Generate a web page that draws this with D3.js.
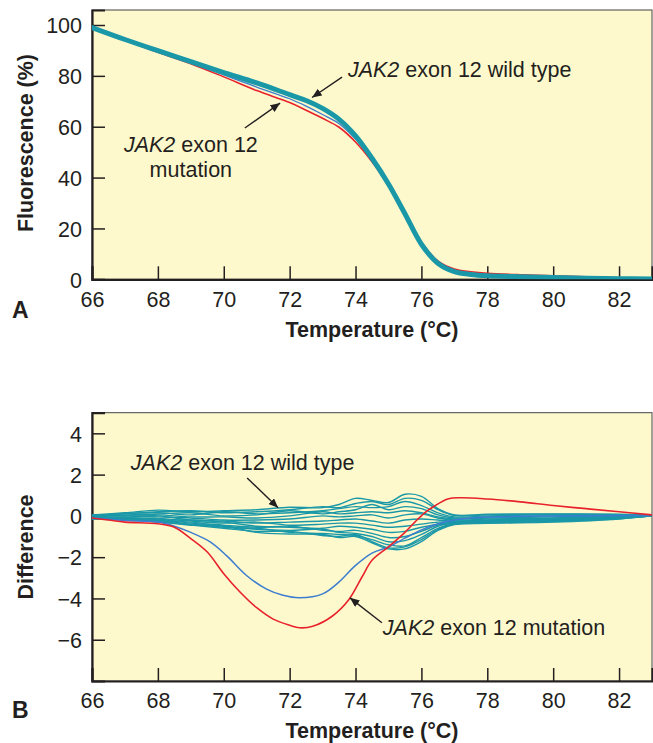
<!DOCTYPE html>
<html>
<head>
<meta charset="utf-8">
<script src="https://cdn.jsdelivr.net/npm/d3@7"></script>
<style>
  body { margin: 0; background: #fff; }
  svg { display: block; font-family: "Liberation Sans", Arial, sans-serif; }
</style>
</head>
<body>
<script>
// ---- data ----
let tempTicks = [66, 68, 70, 72, 74, 76, 78, 80, 82];
let fluorTicks = [0, 20, 40, 60, 80, 100];
let diffTicks = [4, 2, 0, -2, -4, -6];

// panel A: melting curves
let meltT = [66, 67, 68, 69, 70, 71, 72, 72.5, 73, 73.5, 74, 74.5, 75, 75.5, 76, 76.5, 77, 77.5, 78, 79, 80, 81, 82, 83];
let meltWild = [99, 94.3, 89.9, 85.6, 81.3, 77.2, 72.6, 70.3, 67.2, 62.9, 56.4, 47.6, 37.5, 25.8, 13.8, 6.3, 3, 1.9, 1.4, 1, 0.7, 0.45, 0.25, 0.15];
let meltRed = [99, 94.1, 89.3, 84.8, 79.6, 74.2, 69.5, 66.5, 63.3, 59.8, 54, 46.2, 36.8, 25.8, 14.6, 7.2, 4, 3, 2.4, 1.8, 1.4, 1, 0.6, 0.3];
let meltBlue = [99, 94.2, 89.6, 85.2, 80.4, 75.6, 71, 68.1, 64.8, 61.2, 55.1, 47, 37.2, 25.8, 14, 6.6, 3.3, 2.1, 1.6, 1.1, 0.8, 0.5, 0.3, 0.15];

// panel B: difference plot
let diffT = [66, 67, 68, 69, 70, 71, 72, 73, 73.5, 74, 74.5, 75, 75.5, 76, 76.5, 77, 78, 80, 82, 83];
let diffWild = [
  [0.05, 0.15, 0.28, 0.2, 0.25, 0.3, 0.42, 0.4, 0.55, 0.85, 0.75, 0.65, 1.05, 0.95, 0.35, 0.05, 0.08, 0.1, 0.08, 0.05],
  [0.02, 0.1, 0.2, 0.25, 0.15, 0.2, 0.3, 0.45, 0.4, 0.6, 0.7, 0.55, 0.85, 0.75, 0.3, 0.02, 0.05, 0.08, 0.06, 0.05],
  [0.0, 0.12, 0.15, 0.05, 0.2, 0.1, 0.15, 0.25, 0.35, 0.45, 0.4, 0.45, 0.7, 0.5, 0.15, -0.05, 0.0, 0.05, 0.05, 0.04],
  [0.05, 0.05, 0.1, 0.15, 0.0, 0.05, 0.25, 0.1, 0.2, 0.3, 0.55, 0.3, 0.45, 0.35, 0.05, -0.1, -0.05, 0.0, 0.04, 0.04],
  [0.0, 0.02, 0.05, -0.05, -0.05, -0.1, 0.0, 0.2, 0.1, 0.15, 0.2, 0.15, 0.25, 0.15, -0.05, -0.15, -0.1, -0.05, 0.02, 0.04],
  [-0.02, 0.0, -0.05, -0.1, -0.2, -0.2, -0.15, 0.0, -0.05, 0.0, 0.05, -0.1, 0.05, 0.1, -0.1, -0.2, -0.15, -0.1, 0.0, 0.03],
  [-0.05, -0.05, 0.0, -0.2, -0.25, -0.35, -0.3, -0.25, -0.2, -0.15, -0.25, -0.35, -0.2, -0.15, -0.2, -0.25, -0.2, -0.12, -0.02, 0.03],
  [-0.05, -0.1, -0.12, -0.25, -0.35, -0.3, -0.45, -0.4, -0.35, -0.35, -0.45, -0.55, -0.5, -0.4, -0.3, -0.28, -0.22, -0.15, -0.04, 0.02],
  [-0.08, -0.08, -0.2, -0.2, -0.3, -0.5, -0.55, -0.6, -0.5, -0.55, -0.65, -0.8, -0.75, -0.55, -0.4, -0.3, -0.25, -0.18, -0.06, 0.02],
  [-0.1, -0.12, -0.15, -0.35, -0.45, -0.55, -0.5, -0.7, -0.75, -0.7, -0.85, -1.05, -1.0, -0.75, -0.45, -0.32, -0.28, -0.2, -0.08, 0.01],
  [-0.1, -0.15, -0.25, -0.3, -0.5, -0.65, -0.7, -0.65, -0.8, -0.85, -1.0, -1.25, -1.2, -0.9, -0.5, -0.35, -0.3, -0.22, -0.1, 0.0],
  [-0.12, -0.18, -0.22, -0.4, -0.55, -0.6, -0.8, -0.85, -0.9, -0.95, -1.15, -1.4, -1.45, -1.05, -0.6, -0.38, -0.32, -0.25, -0.12, 0.0],
  [-0.15, -0.15, -0.3, -0.45, -0.6, -0.75, -0.75, -0.95, -1.0, -0.9, -1.25, -1.55, -1.5, -1.15, -0.65, -0.4, -0.35, -0.28, -0.14, 0.0],
  [-0.15, -0.2, -0.28, -0.42, -0.5, -0.8, -0.88, -0.9, -1.05, -1.0, -1.3, -1.6, -1.6, -1.25, -0.7, -0.42, -0.36, -0.3, -0.15, 0.0]
];
let diffRedT = [66, 66.5, 67, 68, 68.5, 69, 69.5, 70, 70.5, 71, 71.5, 72, 72.3, 72.7, 73.3, 73.8, 74.2, 74.5, 75, 75.5, 75.8, 76.1, 76.4, 76.8, 77.2, 78, 79, 80, 81, 82, 83];
let diffRed = [-0.1, -0.2, -0.3, -0.38, -0.55, -1.1, -1.75, -2.8, -3.7, -4.45, -5.0, -5.3, -5.42, -5.35, -4.85, -4.05, -2.95, -2.15, -1.5, -0.8, -0.3, 0.15, 0.48, 0.82, 0.88, 0.82, 0.68, 0.5, 0.35, 0.2, 0.05];
let diffBlueT = [66, 67, 68, 68.5, 69, 69.6, 70.1, 70.7, 71.3, 71.8, 72.3, 73, 73.5, 74, 74.5, 75, 75.5, 76, 76.5, 77, 77.5, 78, 80, 83];
let diffBlue = [-0.1, -0.22, -0.3, -0.5, -0.8, -1.27, -1.95, -2.9, -3.55, -3.85, -3.97, -3.78, -3.2, -2.4, -1.8, -1.5, -1.08, -0.68, -0.38, -0.2, -0.1, -0.05, 0.0, 0.02];

// annotations, in data coordinates
let notesA = [
  {tail: [73.59, 79.5], tip: [72.68, 71.5]},
  {tail: [70.64, 59.5], tip: [71.71, 69.3]}
];
let notesB = [
  {tail: [70.71, 1.84], tip: [71.65, 0.39]},
  {tail: [74.80, -5.18], tip: [73.83, -3.97]}
];

let teal = "#1a98a8", red = "#e8222b", blue = "#3c7dd0", ink = "#231f20";

let svg = d3.select("body").append("svg")
    .attr("width", 653)
    .attr("height", 743);

let defs = svg.append("defs");
defs.append("marker")
    .attr("id", "arrowhead")
    .attr("viewBox", "0 -5 12 10")
    .attr("refX", 12)
    .attr("refY", 0)
    .attr("markerWidth", 10)
    .attr("markerHeight", 8)
    .attr("markerUnits", "userSpaceOnUse")
    .attr("orient", "auto")
  .append("path")
    .attr("d", "M0,-5L12,0L0,5Z")
    .attr("fill", ink);

let left = 92, right = 652;

function panel(top, bottom, yDomain, yTicks, clipId) {
  let g = svg.append("g");
  let x = d3.scaleLinear().domain([66, 83]).range([left, right]);
  let y = d3.scaleLinear().domain(yDomain).range([bottom, top]);

  g.append("rect")
    .attr("x", left).attr("y", top)
    .attr("width", right - left).attr("height", bottom - top)
    .attr("fill", "#fef9cd")
    .attr("stroke", "#444")
    .attr("stroke-width", 1);

  defs.append("clipPath").attr("id", clipId)
    .append("rect")
    .attr("x", left).attr("y", top)
    .attr("width", right - left).attr("height", bottom - top);

  let xAxis = g.append("g")
      .attr("transform", "translate(0," + bottom + ")")
      .call(d3.axisBottom(x).tickValues(tempTicks).tickSize(-13).tickPadding(12));
  let yAxis = g.append("g")
      .attr("transform", "translate(" + left + ",0)")
      .call(d3.axisLeft(y).tickValues(yTicks).tickSize(-13).tickPadding(10));

  for (let ax of [xAxis, yAxis]) {
    ax.select(".domain").attr("stroke", ink).attr("stroke-width", 2.2);
    ax.selectAll(".tick line").attr("stroke", ink).attr("stroke-width", 1.5);
    ax.selectAll(".tick text")
      .attr("fill", ink)
      .style("font-size", "21.5px")
      .style("font-family", "'Liberation Sans', Arial, sans-serif");
  }
  xAxis.selectAll(".tick text").attr("y", 12).attr("dy", "0.71em");
  yAxis.selectAll(".tick text").attr("dy", "0.36em");

  let plot = g.append("g").attr("clip-path", "url(#" + clipId + ")");
  return {g: g, x: x, y: y, plot: plot};
}

function drawLine(p, xs, ys, color, width) {
  let line = d3.line()
      .x((d, i) => p.x(xs[i]))
      .y(d => p.y(d))
      .curve(d3.curveCatmullRom.alpha(0.5));
  p.plot.append("path")
    .attr("d", line(ys))
    .attr("fill", "none")
    .attr("stroke", color)
    .attr("stroke-width", width)
    .attr("stroke-linejoin", "round")
    .attr("stroke-linecap", "round");
}

function note(p, n) {
  p.g.append("line")
    .attr("x1", p.x(n.tail[0])).attr("y1", p.y(n.tail[1]))
    .attr("x2", p.x(n.tip[0])).attr("y2", p.y(n.tip[1]))
    .attr("stroke", ink)
    .attr("stroke-width", 1.4)
    .attr("marker-end", "url(#arrowhead)");
}

function label(p, t, v, parts, anchor) {
  let txt = p.g.append("text")
    .attr("x", p.x(t)).attr("y", p.y(v))
    .attr("fill", ink)
    .attr("text-anchor", anchor || "start")
    .style("font-size", "21.5px");
  for (let part of parts) {
    txt.append("tspan").text(part[0]).style("font-style", part[1] ? "italic" : "normal");
  }
}

// ---- panel A ----
let a = panel(10, 279.3, [0, 105.9], fluorTicks, "clipA");
drawLine(a, meltT, meltRed, red, 1.6);
drawLine(a, meltT, meltBlue, blue, 1.3);
drawLine(a, meltT, meltWild, teal, 5);
notesA.forEach(n => note(a, n));
label(a, 73.77, 79.6, [["JAK2", true], [" exon 12 wild type", false]]);
label(a, 66.97, 50.1, [["JAK2", true], [" exon 12", false]]);
label(a, 69.0, 40.2, [["mutation", false]], "middle");

// ---- panel B ----
let b = panel(412.7, 681, [-8, 5], diffTicks, "clipB");
diffWild.forEach(vals => drawLine(b, diffT, vals, teal, 1.4));
drawLine(b, diffBlueT, diffBlue, blue, 1.5);
drawLine(b, diffRedT, diffRed, red, 1.6);
notesB.forEach(n => note(b, n));
label(b, 67.18, 2.23, [["JAK2", true], [" exon 12 wild type", false]]);
label(b, 74.83, -5.76, [["JAK2", true], [" exon 12 mutation", false]]);

// ---- titles ----
function title(x, y, text, rotate, size) {
  let t = svg.append("text")
    .attr("fill", ink)
    .attr("font-weight", "bold")
    .attr("text-anchor", "middle")
    .style("font-size", (size || 21.5) + "px")
    .text(text);
  if (rotate) {
    t.attr("transform", "translate(" + x + "," + y + ") rotate(-90)");
  } else {
    t.attr("x", x).attr("y", y);
  }
}
title(372, 337, "Temperature (\u00b0C)");
title(372, 738, "Temperature (\u00b0C)");
title(33, 143, "Fluorescence (%)", true);
title(33, 547, "Difference", true);

svg.append("text").attr("x", 12).attr("y", 318).attr("fill", ink)
  .attr("font-weight", "bold").style("font-size", "23px").text("A");
svg.append("text").attr("x", 12).attr("y", 718).attr("fill", ink)
  .attr("font-weight", "bold").style("font-size", "23px").text("B");
</script>
</body>
</html>
